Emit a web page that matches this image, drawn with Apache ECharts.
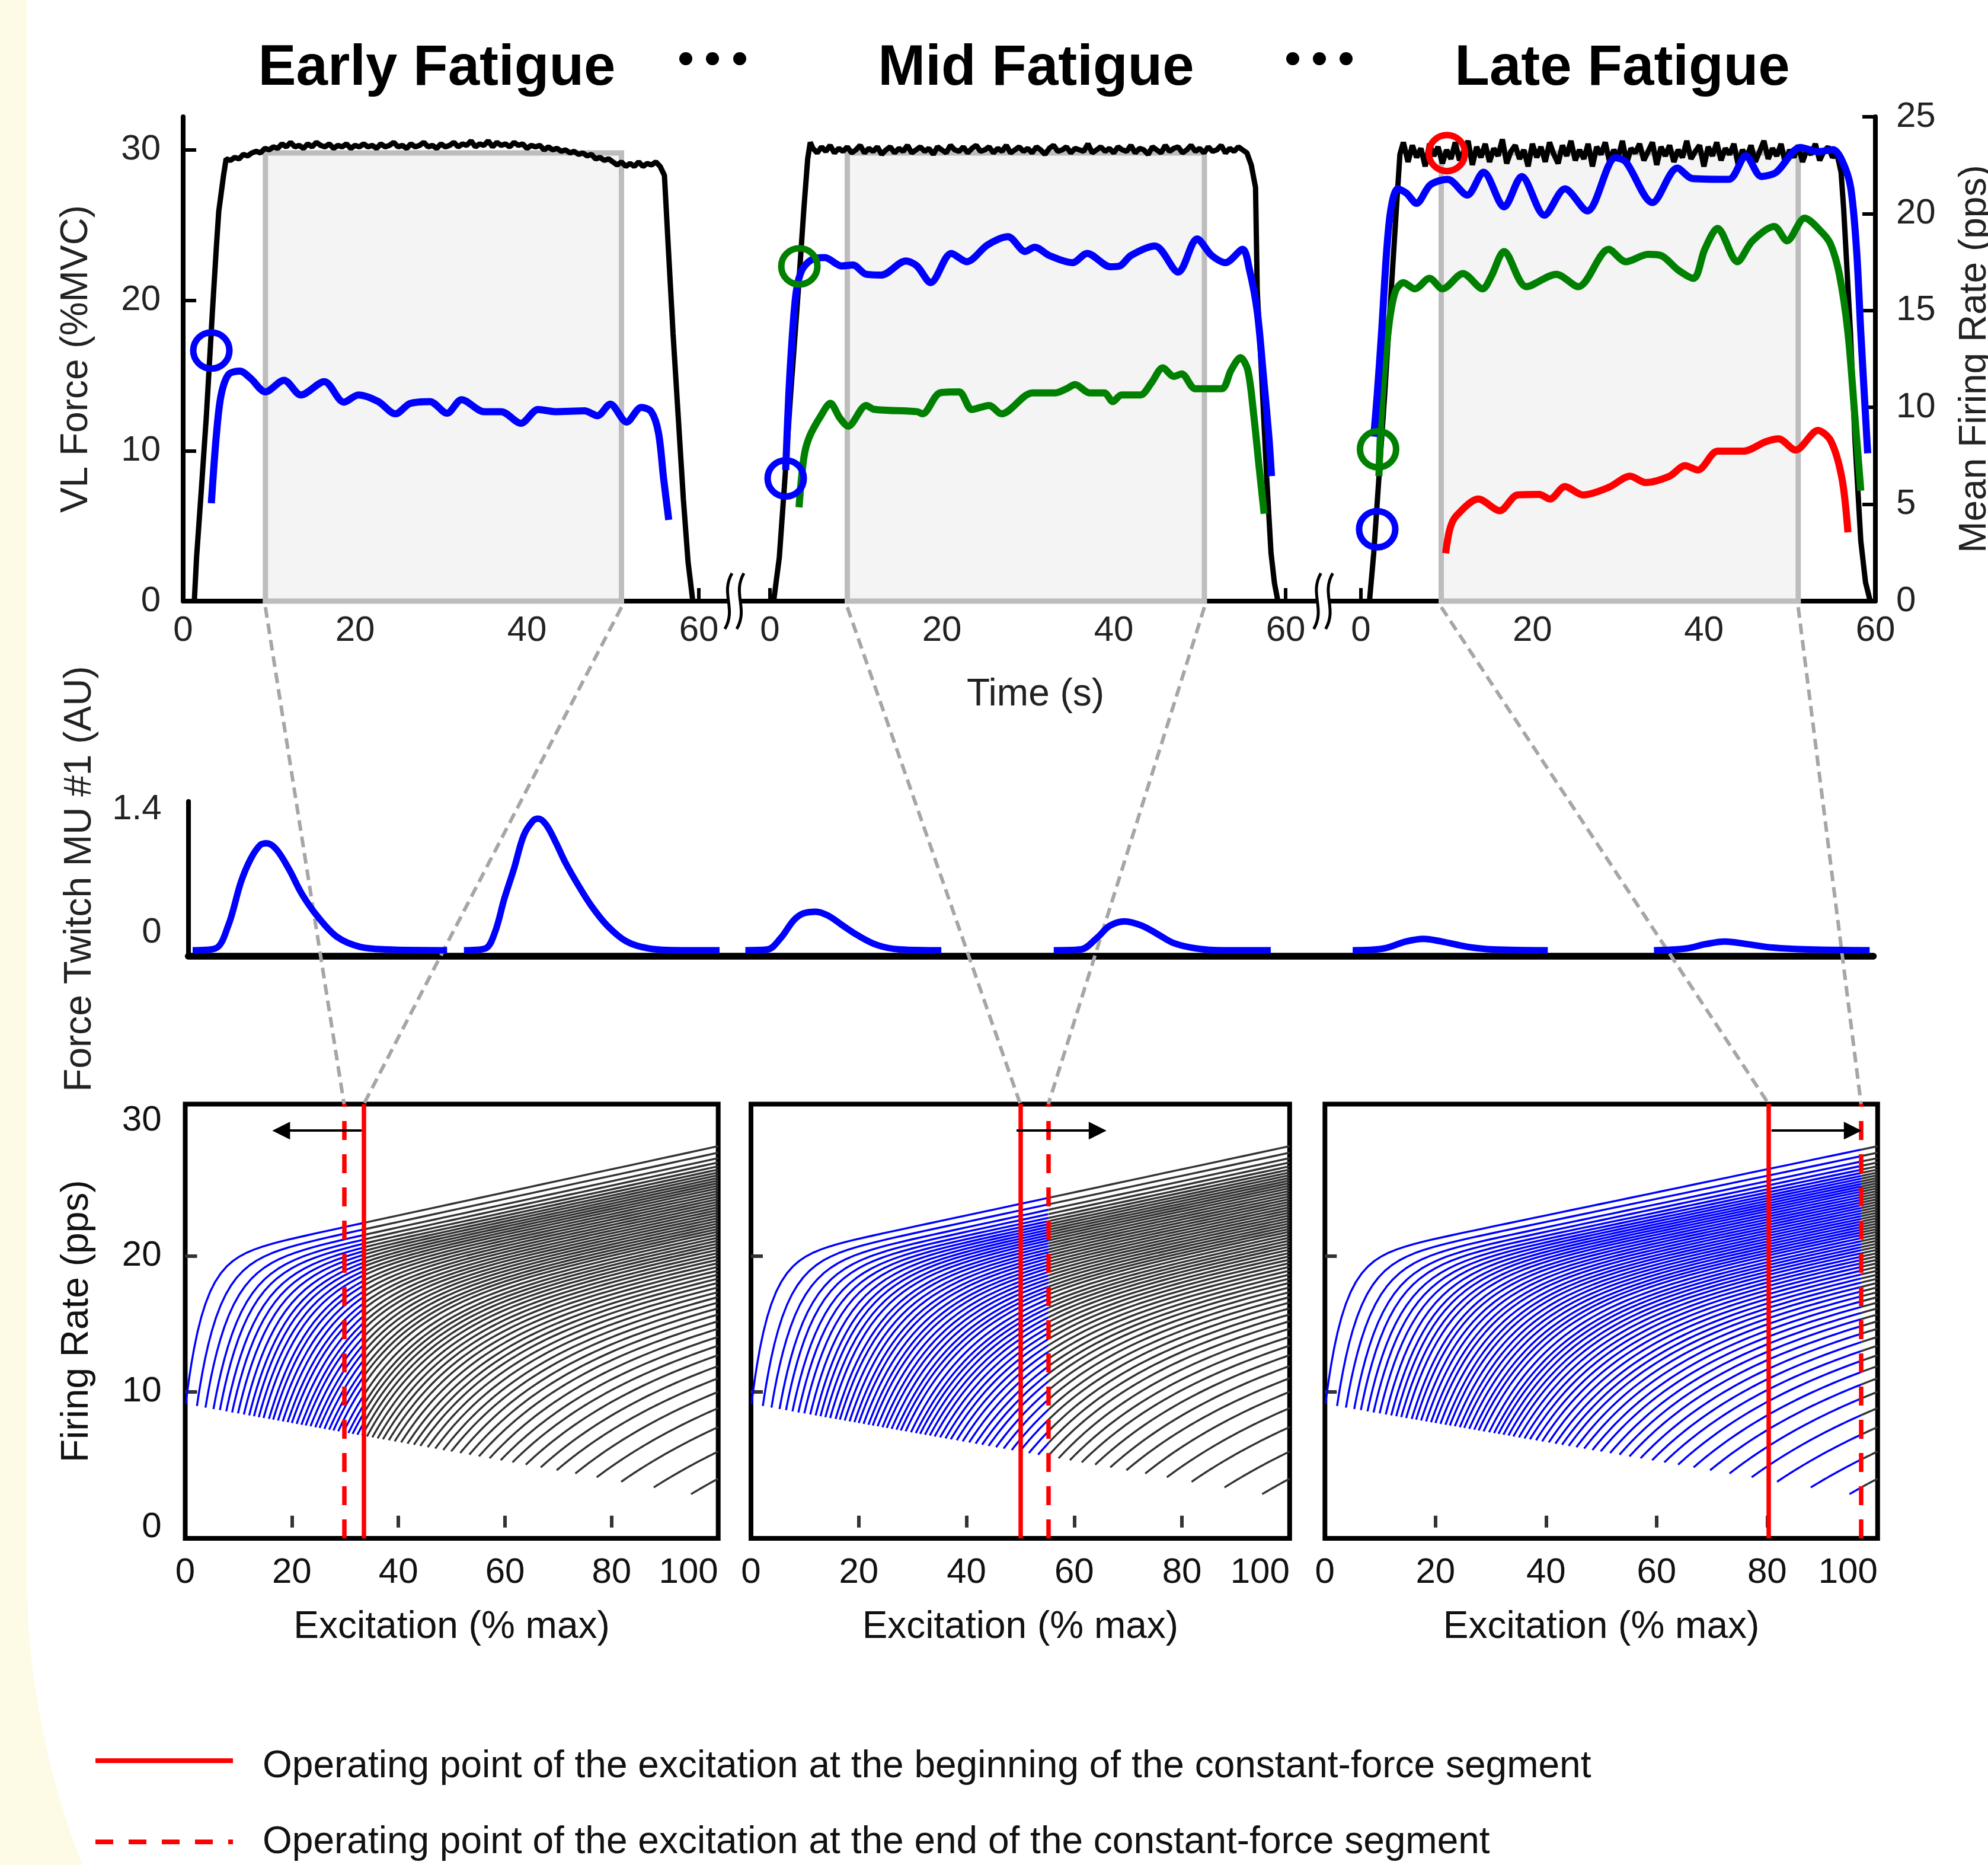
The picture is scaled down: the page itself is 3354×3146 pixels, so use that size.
<!DOCTYPE html>
<html><head><meta charset="utf-8">
<script src="https://cdn.jsdelivr.net/npm/echarts@6.0.0/dist/echarts.min.js"></script>
<style>html,body{margin:0;padding:0;background:#fdfbe6}#c{width:3354px;height:3146px}</style>
</head><body><div id="c"></div>
<script>
const FONT = '"Liberation Sans", Arial, Helvetica, sans-serif';

// ================= DATA =================
// ---- panel titles ----
const panelTitles = ['Early Fatigue', 'Mid Fatigue', 'Late Fatigue'];

// ---- top row: VL force (%MVC) vs time (s) ----
const plateauStep = 0.5;
const forceEarlyRise = [[1.3,0],[1.56,2.9],[2.14,7.6],[2.7,12.3],[3.4,19.2],[3.85,23.4],[4.14,25.9],[4.7,28.3],[5.0,29.4]];
const forceEarlyPlateauStart = 5.5;
const forceEarlyPlateau = [
  29.3,29.5,29.4,29.7,29.6,29.8,29.9,29.8,30.1,30.0,
  30.2,30.1,30.4,30.2,30.5,30.2,30.3,30.1,30.4,30.2,
  30.5,30.3,30.2,30.4,30.1,30.3,30.2,30.4,30.1,30.3,
  30.2,30.4,30.2,30.3,30.1,30.4,30.2,30.3,30.5,30.2,
  30.3,30.1,30.4,30.2,30.3,30.5,30.2,30.3,30.1,30.4,
  30.2,30.3,30.5,30.2,30.4,30.3,30.6,30.2,30.4,30.3,
  30.6,30.2,30.5,30.3,30.4,30.2,30.5,30.3,30.4,30.1,
  30.3,30.2,30.3,30.0,30.2,30.0,30.1,29.9,30.0,29.8,
  29.9,29.7,29.8,29.6,29.7,29.4,29.5,29.3,29.4,29.2,
  29.0,29.2,28.9,29.1,28.9,29.2,28.9,29.1,29.0,29.2,
  28.9];
const forceEarlyFall = [[56.0,28.3],[56.46,23.4],[57.0,17.8],[57.6,12.3],[58.2,6.8],[58.75,2.6],[59.3,0]];

const forceMidRise = [[0.43,0],[1.09,2.9],[1.75,8.2],[2.4,13.7],[3.29,20.6],[3.95,26.1],[4.39,29.4],[4.69,30.5]];
const forceMidPlateauStart = 5.0;
const forceMidPlateau = [
  30.1,29.8,30.2,29.9,30.3,29.8,30.1,29.9,30.2,29.8,
  30.0,30.3,29.8,30.1,29.9,30.2,29.7,30.0,30.2,29.8,
  30.1,29.9,30.3,29.8,30.0,30.2,29.9,30.1,29.7,30.2,
  30.0,29.8,30.3,30.0,29.9,30.2,29.8,30.1,30.3,29.9,
  30.0,30.2,29.8,30.1,29.9,30.3,29.8,30.0,30.2,29.9,
  30.1,29.8,30.2,30.0,29.7,30.1,30.3,29.9,30.0,30.2,
  29.8,30.1,30.0,29.9,30.4,29.8,30.0,30.2,29.9,30.1,
  29.8,30.2,30.0,29.9,30.3,29.8,30.1,30.0,29.7,30.2,
  30.0,29.8,30.3,29.9,30.1,30.2,29.8,30.0,30.3,29.9,
  30.1,29.8,30.2,29.9,30.0,30.3,29.8,30.1,29.9,30.2,
  30.0,29.8];
const forceMidFall = [[56.0,29.0],[56.5,27.5],[56.7,20.6],[57.2,15.1],[57.8,8.2],[58.3,3.2],[58.7,1.2],[59.1,0]];

const forceLateRise = [[1.0,0],[1.5,3.2],[2.1,8.2],[2.77,13.7],[3.53,20.6],[4.14,26.1],[4.55,29.7],[4.95,30.5]];
const forceLatePlateauStart = 5.5;
const forceLatePlateau = [
  29.2,30.3,29.5,30.1,28.9,30.4,29.6,30.2,29.1,30.0,
  29.4,30.5,29.3,29.9,30.6,29.0,30.2,29.5,30.4,29.2,
  30.1,29.6,30.7,29.1,29.9,30.3,29.4,30.0,28.9,30.4,
  29.5,30.2,29.2,30.5,29.7,29.1,30.3,29.6,30.6,29.3,
  30.0,29.4,30.4,28.9,30.2,29.7,30.5,29.2,30.0,29.5,
  30.6,29.1,30.1,29.8,30.4,29.3,29.9,30.5,29.0,30.2,
  29.6,30.3,29.2,30.0,29.5,30.6,29.4,29.9,30.3,28.9,
  30.2,29.6,30.5,29.3,30.1,29.7,30.4,29.0,30.0,29.5,
  30.3,29.2,29.9,30.6,29.4,30.1,29.6,30.4,29.1,30.0,
  29.5,30.3,29.2,30.0,29.7,30.4,29.3,29.9,30.2,29.5,
  29.8];
const forceLateFall = [[56.0,28.5],[56.3,26.1],[57.1,17.8],[57.6,10.9],[58.3,4.0],[58.85,1.25],[59.4,0]];

// constant-force segment (s) and its target level (%MVC)
const constSegment = [[9.57,51.0],[9.0,50.55],[9.37,51.0]];
const constTarget = 29.8;

// ---- top row: mean firing rates (pps) vs time (s) ----
const rateEarlyMU1 = [[3.28,5.05],[3.85,8.5],[4.4,10.6],[5.28,11.7],[6.6,11.87],[7.85,11.5],[9.57,10.8],[11.74,11.4],[13.7,10.64],[16.43,11.33],[18.7,10.27],[20.4,10.64],[22.7,10.3],[24.7,9.67],[26.4,10.2],[28.7,10.3],[30.7,9.7],[32.4,10.4],[35.0,9.78],[37.0,9.78],[39.3,9.18],[41.3,9.89],[43.3,9.78],[46.7,9.82],[48.2,9.57],[49.7,10.17],[51.6,9.24],[53.3,10.0],[54.46,9.78],[55.3,8.7],[55.9,6.34],[56.5,4.19]];
const rateMidMU1 = [[1.83,6.77],[2.19,10.64],[2.63,13.86],[3.07,16.0],[3.72,17.09],[4.83,17.62],[6.37,17.73],[8.35,17.3],[9.66,17.35],[11.2,16.87],[12.97,16.83],[15.8,17.56],[17.1,17.3],[18.7,16.44],[21.1,17.95],[22.9,17.52],[25.3,18.38],[27.7,18.81],[29.7,18.05],[30.8,18.27],[32.5,17.84],[35.2,17.47],[36.9,17.95],[39.6,17.26],[40.7,17.3],[42.0,17.84],[44.8,18.33],[47.5,16.98],[49.7,18.7],[51.4,17.84],[53.0,17.47],[55.0,18.16],[55.8,17.09],[56.7,14.94],[57.4,11.7],[58.05,8.49],[58.36,6.45]];
const rateMidMU2 = [[3.38,4.84],[3.95,7.42],[4.6,8.49],[5.93,9.57],[7.03,10.21],[8.12,9.46],[9.1,9.03],[11.2,10.1],[12.1,9.9],[17.1,9.78],[17.75,9.67],[19.8,10.75],[22.0,10.8],[23.5,9.89],[25.5,10.1],[26.95,9.67],[30.55,10.75],[33.2,10.75],[34.5,10.96],[35.5,11.18],[37.2,10.75],[38.9,10.75],[39.9,10.3],[40.9,10.64],[43.1,10.64],[44.4,11.28],[45.7,12.04],[47.0,11.6],[47.9,11.73],[49.5,10.96],[52.55,10.96],[53.66,11.93],[54.75,12.57],[55.6,11.93],[56.3,9.57],[56.9,6.99],[57.5,4.51]];
const rateLateMU1 = [[1.5,8.49],[1.9,10.64],[2.41,13.86],[3.02,18.16],[3.53,20.31],[4.29,21.28],[5.3,21.06],[6.48,20.53],[8.1,21.49],[10.13,21.77],[12.4,20.96],[14.3,22.14],[16.7,20.35],[18.76,21.92],[21.4,19.92],[23.8,21.28],[26.4,20.14],[29.7,22.89],[30.9,22.67],[34.0,20.57],[36.9,22.35],[38.7,21.81],[42.9,21.77],[44.9,22.99],[46.7,21.92],[48.45,22.14],[51.25,23.42],[53.3,23.2],[55.05,23.3],[56.07,22.78],[57.1,21.4],[57.8,18.16],[58.3,13.86],[58.85,9.57],[59.1,7.63]];
const rateLateMU2 = [[2.1,6.45],[2.5,10.64],[3.28,14.29],[4.03,16.0],[4.95,16.44],[6.3,16.12],[8.0,16.66],[9.52,16.12],[11.9,16.91],[14.2,16.12],[15.2,16.76],[16.7,18.05],[19.3,16.23],[22.8,16.87],[25.35,16.23],[28.9,18.16],[30.9,17.52],[33.5,17.9],[35.0,17.84],[37.0,17.09],[38.8,16.66],[40.1,18.16],[41.6,19.24],[43.9,17.52],[45.65,18.59],[48.2,19.34],[49.7,18.6],[51.75,19.77],[53.8,19.02],[54.8,18.4],[55.8,16.87],[56.8,13.86],[57.6,9.57],[58.3,5.7]];
const rateLateMU3 = [[9.88,2.47],[10.4,3.76],[11.14,4.41],[13.7,5.27],[16.2,4.67],[18.25,5.48],[20.8,5.51],[22.05,5.27],[23.8,5.91],[25.9,5.48],[28.9,5.87],[31.4,6.45],[33.2,6.12],[36.0,6.45],[37.8,6.99],[39.3,6.77],[41.6,7.74],[44.6,7.74],[47.2,8.23],[48.7,8.38],[50.7,7.8],[53.3,8.81],[54.8,8.27],[56.1,6.34],[56.8,3.55]];

// recruitment points on the force trace [time s, force %MVC], per panel
const recruitMU1 = [[3.28,16.66],[1.83,8.16],[1.9,4.78]];
const recruitMU2 = [null,[3.42,22.26],[2.0,10.1]];
const recruitMU3 = [null,null,[10.03,29.79]];

// ---- middle row: force twitch of MU #1 (AU) ----
const twitchOffsets = [2.6,163.6,330.6,513.6,691.0,869.8];
const twitchEarlyStart = [[0,0],[13.4,0.02],[21.1,0.28],[28.7,0.78],[34.4,1.04],[40.1,1.20],[44.0,1.22],[49.7,1.15],[57.3,0.92],[64.9,0.64],[74.4,0.38],[85.9,0.15],[99.2,0.04],[114.5,0.01],[151,0]];
const twitchEarlyEnd = [[0,0],[12.6,0.02],[18.3,0.2],[24.0,0.59],[29.7,0.93],[35.5,1.31],[41.2,1.48],[44.2,1.5],[48.8,1.43],[54.5,1.23],[60.2,1.0],[67.9,0.74],[75.5,0.51],[85.1,0.28],[96.5,0.1],[109.9,0.02],[128.9,0],[151.7,0]];
const twitchMidStart = [[0,0],[13.3,0.01],[21.0,0.14],[28.6,0.34],[34.3,0.42],[41.9,0.44],[49.6,0.39],[57.2,0.29],[66.7,0.17],[78.2,0.06],[91.5,0.01],[116.3,0]];
const twitchMidEnd = [[0,0],[16.1,0.01],[25.6,0.14],[33.3,0.28],[42.1,0.33],[52.4,0.28],[62.0,0.18],[71.5,0.08],[84.9,0.02],[100.2,0],[128.8,0]];
const twitchLateStart = [[0,0],[18.3,0.02],[31.7,0.10],[42.0,0.13],[52.7,0.10],[68.0,0.04],[83.3,0.01],[115.8,0]];
const twitchLateEnd = [[0,0],[19.1,0.02],[30.6,0.07],[42.1,0.10],[55.4,0.07],[70.8,0.03],[91.8,0.01],[128,0]];
const twitchTicks = [0, 1.4];

// ---- bottom row: MU firing rate (pps) vs excitation (% max) ----
const muThreshold = [0.1,2.2,3.8,5.3,6.5,7.7,8.8,9.9,11.0,12.0,12.9,13.8,14.7,15.7,16.5,17.4,18.3,19.2,20.0,20.9,21.8,22.6,23.5,24.4,25.2,26.1,27.0,27.8,28.7,29.7,30.6,31.4,32.3,33.2,34.1,35.1,36.1,37.1,38.2,39.3,40.5,41.7,42.9,44.1,45.5,46.9,48.4,49.9,51.6,53.3,55.1,57.1,59.2,61.4,63.9,66.7,69.7,73.2,77.2,81.8,87.9,94.9];
const muStartRate = [9.1,8.95,8.83,8.73,8.65,8.56,8.48,8.41,8.33,8.26,8.2,8.13,8.07,8.0,7.95,7.88,7.82,7.76,7.7,7.64,7.57,7.52,7.46,7.39,7.34,7.27,7.21,7.15,7.09,7.02,6.96,6.9,6.84,6.78,6.71,6.64,6.57,6.5,6.43,6.35,6.27,6.18,6.1,6.01,5.92,5.82,5.71,5.61,5.49,5.37,5.24,5.1,4.96,4.8,4.63,4.43,4.22,3.98,3.7,3.37,2.95,2.46];
const muRate100 = [28.1,27.62,27.22,26.9,26.62,26.38,26.16,25.96,25.76,25.57,25.38,25.19,25.0,24.8,24.6,24.4,24.2,24.0,23.8,23.6,23.4,23.2,23.0,22.8,22.6,22.4,22.2,22.0,21.8,21.58,21.36,21.14,20.92,20.7,20.47,20.23,19.99,19.74,19.48,19.21,18.93,18.64,18.34,18.03,17.7,17.35,16.98,16.58,16.15,15.7,15.2,14.65,14.05,13.4,12.7,11.9,11.0,10.0,8.8,7.4,5.6,3.6];
const muKnee = [3.3,3.9,4.4,4.8,5.1,5.5,5.8,6.1,6.4,6.7,6.9,7.2,7.4,7.7,7.9,8.2,8.4,8.7,8.9,9.2,9.4,9.6,9.9,10.1,10.4,10.6,10.9,11.1,11.3,11.6,11.9,12.1,12.3,12.6,12.8,13.1,13.4,13.7,14.0,14.3,14.6,15.0,15.3,15.6,16.0,16.4,16.9,17.3,17.7,18.2,18.7,19.3,19.9,20.5,21.2,22.0,22.8,23.8,24.9,26.2,27.9,29.9];
const muSlope = 0.085;
const excTicks = [0,20,40,60,80,100];
const rateTicks = [0,10,20,30];

// operating point of excitation (% max): beginning / end of constant-force segment
const opStart = [33.5, 50.0, 80.3];
const opEnd = [29.8, 55.2, 97.0];
const shiftArrow = [[33.1,18.0],[49.3,64.35],[80.8,95.5]];
const arrowLevel = 29.25;

const legendTexts = [
  'Operating point of the excitation at the beginning of the constant-force segment',
  'Operating point of the excitation at the end of the constant-force segment'
];

// ================= BUILD =================
const BLUE = '#0000ff', GREEN = '#008000', RED = '#ff0000';
const plateauPairs = (t0, vals) => vals.map((v, i) => [+(t0 + i * plateauStep).toFixed(2), v]);
const forceData = [
  forceEarlyRise.concat(plateauPairs(forceEarlyPlateauStart, forceEarlyPlateau), forceEarlyFall),
  forceMidRise.concat(plateauPairs(forceMidPlateauStart, forceMidPlateau), forceMidFall),
  forceLateRise.concat(plateauPairs(forceLatePlateauStart, forceLatePlateau), forceLateFall)
];
const rateData = [
  [[rateEarlyMU1, BLUE]],
  [[rateMidMU2, GREEN], [rateMidMU1, BLUE]],
  [[rateLateMU3, RED], [rateLateMU2, GREEN], [rateLateMU1, BLUE]]
];
const twitchData = [twitchEarlyStart, twitchEarlyEnd, twitchMidStart, twitchMidEnd, twitchLateStart, twitchLateEnd];

const topGrids = [
  {left:309, top:197, width:870, height:817},
  {left:1299, top:197, width:870, height:817},
  {left:2296, top:197, width:868, height:817}
];
const overlayGrid = {left:309, top:197, width:2855, height:817};
const twitchGrid = {left:317.6, top:1352, width:2843, height:261};
const bottomGrids = [
  {left:312.5, top:1862.5, width:899.2, height:732.5},
  {left:1267, top:1862.5, width:908.8, height:732.5},
  {left:2235.3, top:1862.5, width:932.5, height:732.5}
];

const nameStyle = {fontSize:64, color:'#222', fontFamily:FONT};
const tickLabel = {fontSize:60, color:'#222', fontFamily:FONT};

const gridBase = {show:false, containLabel:false, outerBoundsMode:'none'};
const grids = [];
topGrids.forEach(g => grids.push(Object.assign({}, gridBase, g)));
grids.push(Object.assign({}, gridBase, overlayGrid));
grids.push(Object.assign({}, gridBase, twitchGrid));
bottomGrids.forEach(g => grids.push(Object.assign({}, gridBase, {show:true, borderColor:'#000', borderWidth:8, backgroundColor:'rgba(0,0,0,0)'}, g)));

const xAxes = [];
for (let p = 0; p < 3; p++) {
  xAxes.push({
    type:'value', gridIndex:p, min:0, max:60, interval:20,
    axisLine:{show:false}, splitLine:{show:false},
    axisTick:{show:true, inside:true, length:22, lineStyle:{color:'#000', width:6}},
    axisLabel:Object.assign({margin:20}, tickLabel),
    name: p === 1 ? 'Time (s)' : '', nameLocation:'middle', nameGap:126,
    nameTextStyle:Object.assign({padding:[0,0,0,26]}, nameStyle)
  });
}
xAxes.push({type:'value', gridIndex:3, min:0, max:1, axisLine:{show:true, onZero:false, lineStyle:{color:'#000', width:8}}, axisTick:{show:false}, axisLabel:{show:false}, splitLine:{show:false}});
xAxes.push({type:'value', gridIndex:4, min:0, max:1000, axisLine:{show:true, onZero:false, lineStyle:{color:'#000', width:11.5}}, axisTick:{show:false}, axisLabel:{show:false}, splitLine:{show:false}});
for (let p = 0; p < 3; p++) {
  xAxes.push({
    type:'value', gridIndex:5 + p, min:0, max:100, interval:20,
    axisLine:{show:false}, splitLine:{show:false},
    axisTick:{show:true, inside:true, length:20, lineStyle:{color:'#333', width:6}, customValues:[20,40,60,80]},
    axisLabel:Object.assign({margin:28, alignMaxLabel:'right', customValues:excTicks}, tickLabel, {color:'#111'}),
    name:'Excitation (% max)', nameLocation:'middle', nameGap:118, nameTextStyle:Object.assign({}, nameStyle, {color:'#111'})
  });
}

const yAxes = [];
for (let p = 0; p < 3; p++) {
  if (p === 0) {
    yAxes.push({
      type:'value', gridIndex:0, min:0, max:32.2,
      axisLine:{show:true, onZero:false, lineStyle:{color:'#000', width:8}},
      axisTick:{show:true, inside:true, length:22, lineStyle:{color:'#000', width:6}, customValues:[10,20,30]},
      axisLabel:Object.assign({margin:38, customValues:[0,10,20,30]}, tickLabel),
      splitLine:{show:false},
      name:'VL Force (%MVC)', nameLocation:'middle', nameGap:148, nameTextStyle:nameStyle
    });
  } else {
    yAxes.push({type:'value', gridIndex:p, min:0, max:32.2, show:false});
  }
  if (p === 2) {
    yAxes.push({
      type:'value', gridIndex:2, position:'right', min:0, max:25, interval:5,
      axisLine:{show:true, onZero:false, lineStyle:{color:'#000', width:8}},
      axisTick:{show:true, inside:true, length:22, lineStyle:{color:'#000', width:6}},
      axisLabel:Object.assign({margin:35}, tickLabel),
      splitLine:{show:false},
      name:'Mean Firing Rate (pps)', nameLocation:'middle', nameGap:136, nameTextStyle:nameStyle
    });
  } else {
    yAxes.push({type:'value', gridIndex:p, min:0, max:25, show:false});
  }
}
yAxes.push({type:'value', gridIndex:3, min:0, max:1, show:false});
yAxes.push({
  type:'value', gridIndex:4, min:-0.0676, max:1.696,
  axisLine:{show:true, onZero:false, lineStyle:{color:'#000', width:8}},
  axisTick:{show:false}, splitLine:{show:false},
  axisLabel:Object.assign({margin:45, customValues:twitchTicks, verticalAlign:'bottom'}, tickLabel),
  name:'Force Twitch MU #1 (AU)', nameLocation:'middle', nameGap:150, nameTextStyle:nameStyle
});
for (let p = 0; p < 3; p++) {
  yAxes.push({
    type:'value', gridIndex:5 + p, min:-0.8, max:31.2,
    axisLine:{show:false}, splitLine:{show:false},
    axisTick:{show:true, inside:true, length:20, lineStyle:{color:'#333', width:6}, customValues:[10,20]},
    axisLabel:Object.assign({show:p === 0, margin:40, customValues:rateTicks}, tickLabel, {color:'#111'}),
    name: p === 0 ? 'Firing Rate (pps)' : '', nameLocation:'middle', nameGap:150, nameTextStyle:Object.assign({}, nameStyle, {color:'#111'})
  });
}

const series = [];
for (let p = 0; p < 3; p++) {
  series.push({
    type:'line', name:'VL force', xAxisIndex:p, yAxisIndex:2 * p, data:forceData[p],
    symbol:'none', lineStyle:{color:'#000', width:9}, z:3,
    markArea:{silent:true, label:{show:false}, itemStyle:{color:'#f4f4f4', borderColor:'#bdbdbd', borderWidth:9},
      data:[[{coord:[constSegment[p][0], 0]}, {coord:[constSegment[p][1], constTarget]}]]}
  });
  rateData[p].forEach(([d, c]) => series.push({
    type:'line', xAxisIndex:p, yAxisIndex:2 * p + 1, data:d, symbol:'none', smooth:0.3,
    lineStyle:{color:c, width:12}, z:4
  }));
  [[recruitMU3, RED], [recruitMU2, GREEN], [recruitMU1, BLUE]].forEach(([arr, c]) => {
    if (!arr[p]) return;
    series.push({
      type:'scatter', xAxisIndex:p, yAxisIndex:2 * p, data:[arr[p]], symbol:'circle', symbolSize:61,
      itemStyle:{color:'rgba(0,0,0,0)', borderColor:c, borderWidth:11, opacity:1}, z:6
    });
  });
}
twitchData.forEach((tw, k) => series.push({
  type:'line', xAxisIndex:4, yAxisIndex:7, data:tw.map(([t, v]) => [twitchOffsets[k] + t, v]),
  symbol:'none', smooth:0.35, lineStyle:{color:BLUE, width:11}, z:4
}));

function muCurve(i, from, to) {
  const thr = muThreshold[i], r0 = muStartRate[i], r100 = muRate100[i], tau = muKnee[i];
  const span = 100 - thr;
  const A = (r100 - r0 - muSlope * span) / (1 - Math.exp(-span / tau));
  const f = E => r0 + A * (1 - Math.exp(-(E - thr) / tau)) + muSlope * (E - thr);
  const a = Math.max(from, thr), b = Math.min(to, 100);
  const pts = [];
  if (b <= a) return pts;
  pts.push([a, f(a)]);
  const N = 50;
  for (let j = 1; j < N; j++) {
    const E = thr + span * Math.pow(j / N, 1.8);
    if (E > a && E < b) pts.push([E, f(E)]);
  }
  pts.push([b, f(b)]);
  return pts;
}
for (let p = 0; p < 3; p++) {
  const limit = Math.max(opStart[p], opEnd[p]);
  const blue = [], black = [];
  for (let i = 0; i < muThreshold.length; i++) {
    const b1 = muCurve(i, muThreshold[i], limit);
    if (b1.length) { b1.forEach(q => blue.push(q)); blue.push([b1[b1.length - 1][0], null]); }
    const b2 = muCurve(i, limit, 100);
    if (b2.length) { b2.forEach(q => black.push(q)); black.push([100, null]); }
  }
  series.push({
    type:'line', xAxisIndex:5 + p, yAxisIndex:8 + p, data:black, symbol:'none', connectNulls:false,
    lineStyle:{color:'#333', width:3.4}, z:3,
    markLine:{silent:true, symbol:['none','none'], label:{show:false}, animation:false,
      data:[
        {xAxis:opStart[p], lineStyle:{color:RED, width:7.5, type:'solid'}},
        {xAxis:opEnd[p], lineStyle:{color:RED, width:7.5, type:[32,24]}}
      ]}
  });
  series.push({
    type:'line', xAxisIndex:5 + p, yAxisIndex:8 + p, data:blue, symbol:'none', connectNulls:false,
    lineStyle:{color:BLUE, width:3.4}, z:4,
    markLine:{silent:true, symbol:['none','triangle'], symbolSize:[30,30], label:{show:false}, animation:false,
      lineStyle:{color:'#000', width:4, type:'solid'},
      data:[[{coord:[shiftArrow[p][0], arrowLevel]}, {coord:[shiftArrow[p][1], arrowLevel]}]]}
  });
}

const chart = echarts.init(document.getElementById('c'), null, {renderer:'canvas', width:3354, height:3146});
chart.setOption({
  animation:false,
  backgroundColor:'#fdfbe6',
  textStyle:{fontFamily:FONT},
  grid:grids, xAxis:xAxes, yAxis:yAxes, series:series
});

// ---------- annotations ----------
const px = (xi, yi, v) => chart.convertToPixel({xAxisIndex:xi, yAxisIndex:yi}, v);
const els = [];
els.push({type:'rect', z:-10, silent:true, shape:{x:45, y:-3000, width:6000, height:7005, r:[0,0,0,1355]}, style:{fill:'#ffffff'}});
const titleCx = [737, 1748, 2737];
panelTitles.forEach((t, k) => els.push({type:'text', x:titleCx[k], y:117, z:10,
  style:{text:t, font:'bold 96px ' + FONT, fill:'#000', align:'center', verticalAlign:'middle', textAlign:'center', textVerticalAlign:'middle'}}));
[1157, 1202, 1248, 2181, 2226, 2271].forEach(x => els.push({type:'circle', z:10, shape:{cx:x, cy:99, r:11}, style:{fill:'#000'}}));
for (let k = 0; k < 2; k++) {
  const a = px(k, 2 * k, [60, 0]);
  const b = px(k + 1, 2 * (k + 1), [0, 0]);
  const cx = (a[0] + b[0]) / 2, cy = a[1];
  els.push({type:'rect', z:10, shape:{x:cx - 10, y:cy - 7, width:20, height:14}, style:{fill:'#ffffff'}});
  [-10, 10].forEach(d => {
    const xs = cx + d;
    els.push({type:'bezierCurve', z:11, shape:{x1:xs + 6, y1:cy - 47, x2:xs - 6, y2:cy + 47, cpx1:xs - 14, cpy1:cy - 12, cpx2:xs + 14, cpy2:cy + 12},
      style:{stroke:'#000', lineWidth:5, fill:null}});
  });
}
for (let p = 0; p < 3; p++) {
  const lo = Math.min(opStart[p], opEnd[p]), hi = Math.max(opStart[p], opEnd[p]);
  [[constSegment[p][0], lo], [constSegment[p][1], hi]].forEach(([t, e]) => {
    const A = px(p, 2 * p, [t, -0.4]);
    const B = px(5 + p, 8 + p, [e, 31.2]);
    els.push({type:'line', z:1, silent:true, shape:{x1:A[0], y1:A[1], x2:B[0], y2:B[1]},
      style:{stroke:'#a6a6a6', lineWidth:6, lineDash:[18,10]}});
  });
}
els.push({type:'line', z:10, shape:{x1:161, y1:2970, x2:393, y2:2970}, style:{stroke:RED, lineWidth:8}});
els.push({type:'line', z:10, shape:{x1:161, y1:3107, x2:393, y2:3107}, style:{stroke:RED, lineWidth:8, lineDash:[30,26]}});
legendTexts.forEach((t, k) => els.push({type:'text', x:443, y:k === 0 ? 2980 : 3108, z:10,
  style:{text:t, font:'64px ' + FONT, fill:'#111', align:'left', verticalAlign:'middle', textAlign:'left', textVerticalAlign:'middle'}}));

chart.setOption({graphic:{elements:els}});
</script></body></html>
